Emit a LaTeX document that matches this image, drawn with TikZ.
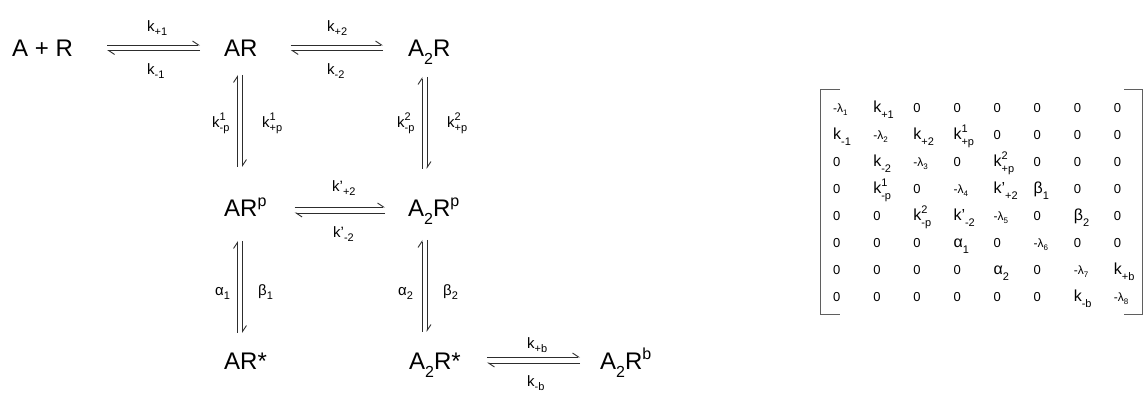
\documentclass[tikz,border=0pt]{standalone}
\usepackage{fontspec}
\setmainfont{Liberation Sans}
\usetikzlibrary{arrows.meta}
\definecolor{inkc}{RGB}{45,45,45}
\definecolor{brkc}{RGB}{95,95,95}
\def\subsz{10}\def\lodp{0.4ex}\def\hiup{0.8ex}\def\hlup{0.9ex}
\newcommand{\Lo}[1]{\raisebox{-\lodp}{\fontsize{\subsz}{\subsz}\selectfont #1}}
\newcommand{\Hi}[1]{\raisebox{\hiup}{\fontsize{\subsz}{\subsz}\selectfont #1}}
\newcommand{\HL}[2]{\rlap{\raisebox{\hlup}{\fontsize{\subsz}{\subsz}\selectfont #1}}\raisebox{-\lodp}{\fontsize{\subsz}{\subsz}\selectfont #2}}
% matrix entry helpers
\newcommand{\Z}{{\fontsize{13}{15}\selectfont 0}}
\newcommand{\Lm}[1]{{\fontsize{12}{14}\selectfont\def\subsz{8}\def\lodp{0.4ex}-λ\Lo{#1}}}
\newcommand{\Mk}[1]{{\fontsize{16}{18}\selectfont\def\subsz{11}\def\lodp{0.6ex}#1}}
\begin{document}
\begin{tikzpicture}[x=1pt,y=1pt,
  harp/.style={draw=inkc, line width=0.9pt, -{Straight Barb[left,length=6pt,width=8pt,line width=0.9pt]}},
  sp/.style={inner sep=0, anchor=base west, font=\fontsize{24}{28}\selectfont\def\subsz{16}\def\lodp{0.6ex}\def\hiup{0.85ex}},
  rate/.style={inner sep=0, anchor=base west, font=\fontsize{15}{17}\selectfont\def\subsz{11}\def\lodp{0.4ex}\def\hlup{0.95ex}},
  cell/.style={inner sep=0, anchor=base west},
  brk/.style={draw=brkc, line width=1pt}]
\useasboundingbox (0,0) rectangle (1144,395);
% species
\node[sp] (apr)  at (12,338)  {A + R};
\node[sp] (ar)   at (224,338) {AR};
\node[sp] (a2r)  at (408,338) {A\Lo{2}R};
\node[sp] (arp)  at (224,178) {AR\Hi{p}};
\node[sp] (a2rp) at (408,178) {A\Lo{2}R\Hi{p}};
\node[sp] (ars)  at (224,25)  {AR*};
\node[sp] (a2rs) at (409,25)  {A\Lo{2}R*};
\node[sp] (a2rb) at (600,25)  {A\Lo{2}R\Hi{b}};
% horizontal harpoons
\draw[harp] ([xshift=34pt,yshift=12pt]apr.base east) -- ([xshift=-24pt,yshift=12pt]ar.base west);
\draw[harp] ([xshift=-24pt,yshift=6.5pt]ar.base west) -- ([xshift=34pt,yshift=6.5pt]apr.base east);
\draw[harp] ([xshift=33pt,yshift=12pt]ar.base east) -- ([xshift=-25pt,yshift=12pt]a2r.base west);
\draw[harp] ([xshift=-25pt,yshift=6.5pt]a2r.base west) -- ([xshift=33pt,yshift=6.5pt]ar.base east);
\draw[harp] ([xshift=28pt,yshift=10pt]arp.base east) -- ([xshift=-23pt,yshift=10pt]a2rp.base west);
\draw[harp] ([xshift=-23pt,yshift=4pt]a2rp.base west) -- ([xshift=28pt,yshift=4pt]arp.base east);
\draw[harp] ([xshift=26pt,yshift=13pt]a2rs.base east) -- ([xshift=-20pt,yshift=13pt]a2rb.base west);
\draw[harp] ([xshift=-20pt,yshift=7pt]a2rb.base west) -- ([xshift=26pt,yshift=7pt]a2rs.base east);
% vertical harpoons
\draw[harp] ([xshift=13.5pt,yshift=50pt]arp.base west) -- ([xshift=13.5pt,yshift=-18pt]ar.base west);
\draw[harp] ([xshift=18.5pt,yshift=-18pt]ar.base west) -- ([xshift=18.5pt,yshift=50pt]arp.base west);
\draw[harp] ([xshift=14pt,yshift=48pt]a2rp.base west) -- ([xshift=14pt,yshift=-20pt]a2r.base west);
\draw[harp] ([xshift=19pt,yshift=-20pt]a2r.base west) -- ([xshift=19pt,yshift=48pt]a2rp.base west);
\draw[harp] ([xshift=13.5pt,yshift=37pt]ars.base west) -- ([xshift=13.5pt,yshift=-24pt]arp.base west);
\draw[harp] ([xshift=18.5pt,yshift=-24pt]arp.base west) -- ([xshift=18.5pt,yshift=37pt]ars.base west);
\draw[harp] ([xshift=13pt,yshift=38pt]a2rs.base west) -- ([xshift=14pt,yshift=-23pt]a2rp.base west);
\draw[harp] ([xshift=19pt,yshift=-23pt]a2rp.base west) -- ([xshift=18pt,yshift=38pt]a2rs.base west);
% rate labels
\node[rate] (lk1)  at (147,363) {k\Lo{+1}};
\node[rate] (lkm1) at (147,320) {k\Lo{-1}};
\node[rate] (lk2)  at (327,363) {k\Lo{+2}};
\node[rate] (lkm2) at (327,320) {k\Lo{-2}};
\node[rate] (lp1m) at (212,267) {k\HL{1}{-p}};
\node[rate] (lp1p) at (262,267) {k\HL{1}{+p}};
\node[rate] (lp2m) at (397,267) {k\HL{2}{-p}};
\node[rate] (lp2p) at (447,267) {k\HL{2}{+p}};
\node[rate] (lq2)  at (332,203) {k'\Lo{+2}};
\node[rate] (lqm2) at (333,157) {k'\Lo{-2}};
\node[rate] (la1)  at (215,99)  {α\Lo{1}};
\node[rate] (lb1)  at (258,99)  {β\Lo{1}};
\node[rate] (la2)  at (398,99)  {α\Lo{2}};
\node[rate] (lb2)  at (443,99)  {β\Lo{2}};
\node[rate] (lkb)  at (527,46)  {k\Lo{+b}};
\node[rate] (lkmb) at (527,8)   {k\Lo{-b}};
% matrix
\foreach \rw [count=\r] in {
  {\Lm{1},\Mk{k\Lo{+1}},\Z,\Z,\Z,\Z,\Z,\Z},
  {\Mk{k\Lo{-1}},\Lm{2},\Mk{k\Lo{+2}},\Mk{k\HL{1}{+p}},\Z,\Z,\Z,\Z},
  {\Z,\Mk{k\Lo{-2}},\Lm{3},\Z,\Mk{k\HL{2}{+p}},\Z,\Z,\Z},
  {\Z,\Mk{k\HL{1}{-p}},\Z,\Lm{4},\Mk{k'\Lo{+2}},\Mk{β\Lo{1}},\Z,\Z},
  {\Z,\Z,\Mk{k\HL{2}{-p}},\Mk{k'\Lo{-2}},\Lm{5},\Z,\Mk{β\Lo{2}},\Z},
  {\Z,\Z,\Z,\Mk{α\Lo{1}},\Z,\Lm{6},\Z,\Z},
  {\Z,\Z,\Z,\Z,\Mk{α\Lo{2}},\Z,\Lm{7},\Mk{k\Lo{+b}}},
  {\Z,\Z,\Z,\Z,\Z,\Z,\Mk{k\Lo{-b}},\Lm{8}}}{
  \foreach \e [count=\c] in \rw {
    \node[cell] (m\r-\c) at ({833+(\c-1)*40.1},{282-(\r-1)*27}) {\e};
  }
}
\draw[brk] (840,305) -- (820,305) -- (820,80) -- (840,80);
\draw[brk] (1124,305) -- (1142,305) -- (1142,80) -- (1124,80);
\end{tikzpicture}
\end{document}
